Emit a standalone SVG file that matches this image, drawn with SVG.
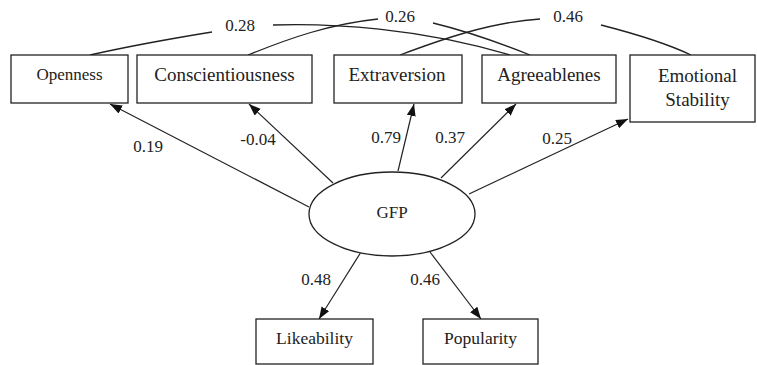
<svg xmlns="http://www.w3.org/2000/svg" width="757" height="365" viewBox="0 0 757 365">
<defs>
<style>
.box{fill:#fff;stroke:#222;stroke-width:1.3}
.t{font-family:"Liberation Serif","Times New Roman",serif;font-size:19px;fill:#222;text-anchor:middle}
.n{font-family:"Liberation Serif","Times New Roman",serif;font-size:17px;fill:#222;text-anchor:middle}
.c{fill:none;stroke:#222;stroke-width:1.3}
.a{fill:none;stroke:#222;stroke-width:1.2;marker-end:url(#ah)}
</style>
<marker id="ah" markerUnits="userSpaceOnUse" markerWidth="13" markerHeight="10" refX="12" refY="4.5" orient="auto">
<path d="M0,0 L12,4.5 L0,9 z" fill="#111"/>
</marker>
</defs>
<rect width="757" height="365" fill="#fff"/>
<g id="connectors">
<path class="c" d="M90,55 C130,46 175,38 212,32"/>
<path class="c" d="M273,25 C330,23 420,28 510,55"/>
<path class="c" d="M248,55 C290,38 330,24 378,19"/>
<path class="c" d="M433,23 C470,32 505,45 530,55"/>
<path class="c" d="M400,55 C440,40 490,22 540,19"/>
<path class="c" d="M601,25 C640,35 670,45 691,55"/>
<line class="a" x1="309" y1="207" x2="110" y2="104"/>
<line class="a" x1="333" y1="183" x2="249" y2="104"/>
<line class="a" x1="398" y1="171" x2="414" y2="104"/>
<line class="a" x1="441" y1="178" x2="516" y2="104"/>
<line class="a" x1="469" y1="194" x2="628" y2="119"/>
<line class="a" x1="361" y1="252" x2="319" y2="319"/>
<line class="a" x1="430" y1="252" x2="481" y2="319"/>
<text class="n" x="240" y="31">0.28</text>
<text class="n" x="400" y="22">0.26</text>
<text class="n" x="568" y="22">0.46</text>
<text class="n" x="148" y="152">0.19</text>
<text class="n" x="258" y="145">-0.04</text>
<text class="n" x="386" y="143">0.79</text>
<text class="n" x="450" y="143">0.37</text>
<text class="n" x="557" y="144">0.25</text>
<text class="n" x="316" y="285">0.48</text>
<text class="n" x="425" y="285">0.46</text>
</g>
<g id="openness"><rect class="box" x="11" y="55" width="117" height="48"/><text class="t" x="69.5" y="80" style="font-size:17px">Openness</text></g>
<g id="conscientiousness"><rect class="box" x="137" y="55" width="175" height="48"/><text class="t" x="224.5" y="81">Conscientiousness</text></g>
<g id="extraversion"><rect class="box" x="334" y="55" width="128" height="48"/><text class="t" x="397" y="81">Extraversion</text></g>
<g id="agreeablenes"><rect class="box" x="482" y="55" width="134" height="48"/><text class="t" x="549" y="81">Agreeablenes</text></g>
<g id="emotional-stability"><rect class="box" x="630" y="55" width="125" height="67"/><text class="t" x="697.5" y="82">Emotional</text><text class="t" x="697.5" y="106">Stability</text></g>
<g id="gfp"><ellipse cx="392" cy="214" rx="83" ry="42" fill="#fff" stroke="#222" stroke-width="1.3"/><text class="n" x="392" y="218">GFP</text></g>
<g id="likeability"><rect class="box" x="256" y="319" width="117" height="45"/><text class="t" x="314.5" y="344" style="font-size:17.5px">Likeability</text></g>
<g id="popularity"><rect class="box" x="423" y="319" width="115" height="45"/><text class="t" x="480.5" y="344" style="font-size:17.5px">Popularity</text></g>
</svg>
